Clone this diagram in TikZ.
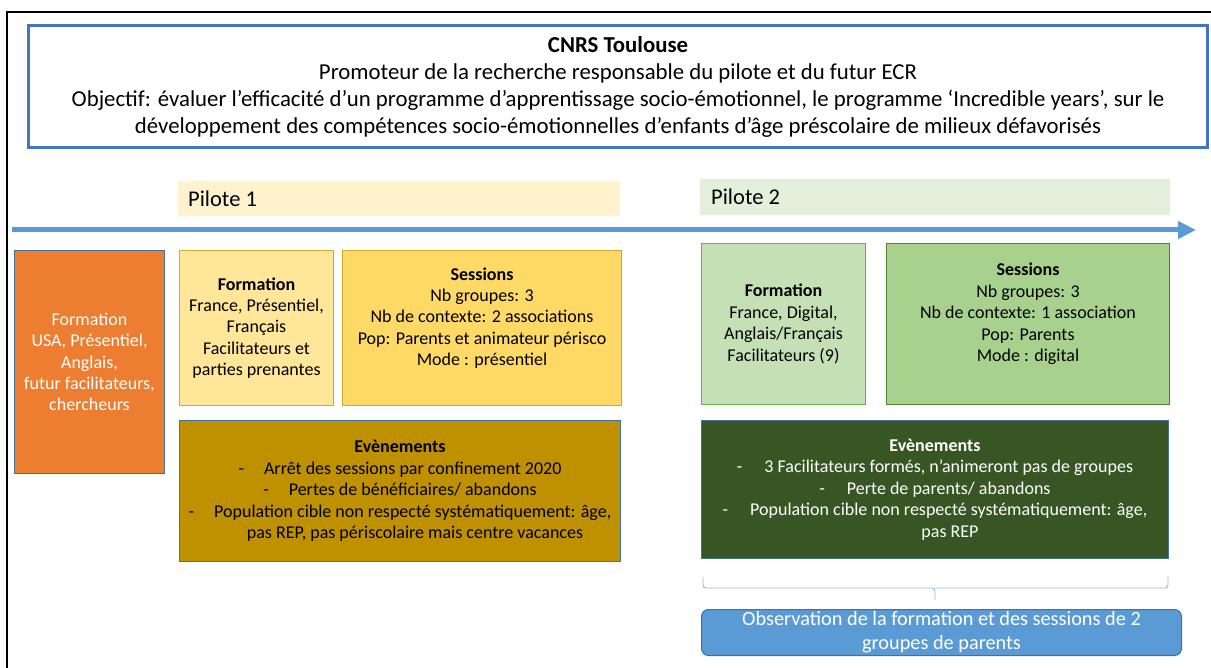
\documentclass[tikz,border=0pt]{standalone}
\usepackage{fontspec}
\setmainfont{Carlito}
\usetikzlibrary{arrows.meta,calc}
\definecolor{titleB}{HTML}{4472C4}
\definecolor{arrowB}{HTML}{5B9BD5}
\definecolor{edgeB}{HTML}{41719C}
\definecolor{orangeF}{HTML}{ED7D31}
\definecolor{yLight}{HTML}{FFF2CC}
\definecolor{yForm}{HTML}{FFE699}
\definecolor{ySess}{HTML}{FFD966}
\definecolor{yEdge}{HTML}{D4A92A}
\definecolor{yEvt}{HTML}{BF9000}
\definecolor{gLight}{HTML}{E2EFDA}
\definecolor{gForm}{HTML}{C5E0B4}
\definecolor{gFormE}{HTML}{70AD47}
\definecolor{gSess}{HTML}{A9D18E}
\definecolor{gSessE}{HTML}{548235}
\definecolor{gEvt}{HTML}{375623}
\definecolor{braceB}{HTML}{8FB4E3}
\begin{document}
\begin{tikzpicture}[x=1pt,y=-1pt,
  box/.style={draw, line width=1pt, inner sep=0pt, anchor=north west, align=center,
    font=\fontsize{18}{21.4}\selectfont},
  txt/.style={align=center, inner sep=0pt, font=\fontsize{18}{21.4}\selectfont},
  band/.style={inner sep=0pt, anchor=north west, draw=none},
  bandtxt/.style={inner sep=0pt, anchor=west, font=\fontsize{22.5}{26}\selectfont},
]
\useasboundingbox (0,0) rectangle (1211,668);
% outer frame
\draw[line width=2.5pt, black] (1211,12) -- (7,12) -- (7,668);
% title
\node[box, draw=titleB, line width=3pt, minimum width=1179pt, minimum height=122pt,
  font=\fontsize{22.8}{27}\selectfont] (title) at (27,24)
  {\textbf{CNRS Toulouse}\\
   Promoteur de la recherche responsable du pilote et du futur ECR\\
   Objectif: évaluer l’efficacité d’un programme d’apprentissage socio-émotionnel, le programme ‘Incredible years’, sur le\\
   développement des compétences socio-émotionnelles d’enfants d’âge préscolaire de milieux défavorisés};
% pilot bands
\node[band, fill=yLight, minimum width=442pt, minimum height=35pt] (p1) at (178,181) {};
\node[bandtxt] at ($(p1.west)+(10,0)$) {Pilote 1};
\node[band, fill=gLight, minimum width=470pt, minimum height=36pt] (p2) at (700,179) {};
\node[bandtxt] at ($(p2.west)+(11,0)$) {Pilote 2};
% timeline arrow
\coordinate (a0) at (12,230);
\coordinate (a1) at (1196,230);
\draw[arrowB, line width=5pt, -{Triangle[length=18pt,width=17pt]}] (a0) -- (a1);
% left orange box
\node[box, fill=orangeF, draw=edgeB, text=white, minimum width=150pt, minimum height=223pt] (usa) at (14,250)
  {Formation\\USA, Présentiel,\\Anglais,\\futur facilitateurs,\\chercheurs};
% pilot 1
\node[box, fill=yForm, draw=yEdge, minimum width=154pt, minimum height=155pt] (f1) at (179,250)
  {\textbf{Formation}\\France, Présentiel,\\Français\\Facilitateurs et\\parties prenantes};
\node[box, fill=ySess, draw=yEdge, minimum width=279pt, minimum height=155pt] (s1) at (342,250) {};
\node[txt] at ($(s1.center)+(0,-10)$)
  {\textbf{Sessions}\\Nb groupes: 3\\Nb de contexte: 2 associations\\Pop: Parents et animateur périsco\\Mode : présentiel};
\node[box, fill=yEvt, draw=edgeB, minimum width=441pt, minimum height=141pt] (e1) at (179,420)
  {\textbf{Evènements}\\
   -\hspace{20pt}Arrêt des sessions par confinement 2020\\
   -\hspace{20pt}Pertes de bénéficiaires/ abandons\\
   -\hspace{20pt}Population cible non respecté systématiquement: âge,\\
   \hspace*{30pt}pas REP, pas périscolaire mais centre vacances};
% pilot 2
\node[box, fill=gForm, draw=gFormE, minimum width=164pt, minimum height=161pt] (f2) at (701,243)
  {\textbf{Formation}\\France, Digital,\\Anglais/Français\\Facilitateurs (9)};
\node[box, fill=gSess, draw=gSessE, minimum width=283pt, minimum height=161pt] (s2) at (886,243) {};
\node[txt] at ($(s2.center)+(0,-10)$)
  {\textbf{Sessions}\\Nb groupes: 3\\Nb de contexte: 1 association\\Pop: Parents\\Mode : digital};
\node[box, fill=gEvt, draw=edgeB, text=white, minimum width=467pt, minimum height=138pt] (e2) at (701,420)
  {\textbf{Evènements}\\
   -\hspace{22pt}3 Facilitateurs formés, n’animeront pas de groupes\\
   -\hspace{22pt}Perte de parents/ abandons\\
   -\hspace{22pt}Population cible non respecté systématiquement: âge,\\
   \hspace*{30pt}pas REP};
% observation
\node[box, fill=arrowB, draw=edgeB, text=white, rounded corners=7pt, minimum width=480pt, minimum height=46pt,
  font=\fontsize{20.3}{24}\selectfont] (obs) at (701,609)
  {Observation de la formation et des sessions de 2\\groupes de parents};
% bracket
\coordinate (bl) at (703,577);
\coordinate (br) at (1168,577);
\coordinate (bm) at (935,600);
\draw[braceB, line width=0.9pt, rounded corners=3pt]
  (bl) -- (703,588) -- (935,588) -- (bm);
\draw[braceB, line width=0.9pt, rounded corners=3pt]
  (935,588) -- (1168,588) -- (br);
\end{tikzpicture}
\end{document}
